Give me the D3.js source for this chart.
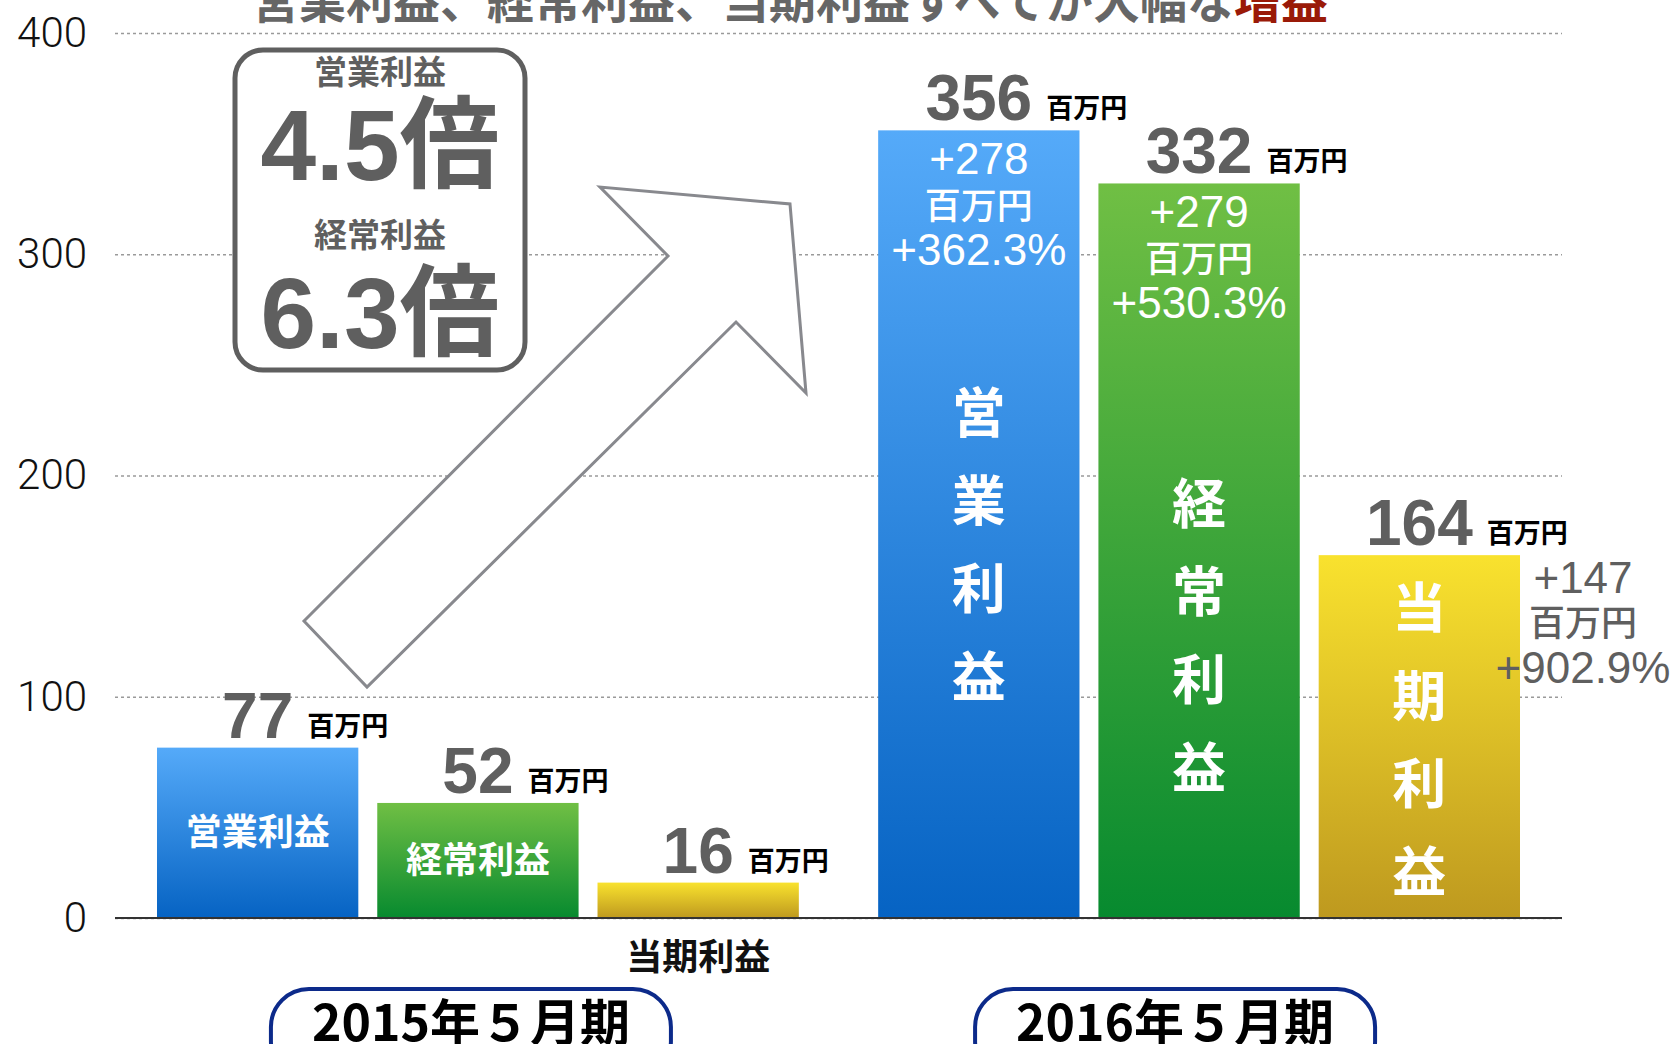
<!DOCTYPE html>
<html>
<head>
<meta charset="utf-8">
<script src="https://cdn.jsdelivr.net/npm/d3@7"></script>
<style>
  html, body { margin: 0; padding: 0; background: #fff; overflow: hidden; }
  svg { display: block; }
</style>
</head>
<body>
<div id="graphic"></div>
<script>
(function() {

// data
var periods = ['2015年５月期', '2016年５月期'];
var profitTypes = ['営業利益', '経常利益', '当期利益'];
var profit2015 = [77, 52, 16];
var profit2016 = [356, 332, 164];
var increaseAmount = ['+278', '+279', '+147'];
var increaseRate = ['+362.3%', '+530.3%', '+902.9%'];
var yTicks = [0, 100, 200, 300, 400];
var unitLabel = '百万円';
var ratioLabels = ['営業利益', '経常利益'];
var ratioValues = ['4.5倍', '6.3倍'];
var titleText = '営業利益、経常利益、当期利益すべてが大幅な';
var titleEmph = '増益';

var W = 1674, H = 1044;
var plot = {left: 115, right: 1562, top: 33, bottom: 918};
var jp = '"Noto Sans CJK JP", "Noto Sans", sans-serif';
var num = '"Liberation Sans", Arial, "Noto Sans CJK JP", sans-serif';
var grey = '#5f5f5f';

var svg = d3.select('#graphic').append('svg')
    .attr('width', W)
    .attr('height', H);

// scales
var y = d3.scaleLinear().domain([0, 400]).range([plot.bottom, plot.top]);
var x0 = d3.scaleBand().domain(periods).range([157, 1520]).paddingInner(0.11);
var x1 = d3.scaleBand().domain(profitTypes).range([0, x0.bandwidth()]).paddingInner(0.086);

// gradients
var gradStops = [['#55aaf9', '#0663c3'], ['#70bf44', '#078a2f'], ['#f9e22e', '#be991f']];
var defs = svg.append('defs');
profitTypes.forEach(function(t, i) {
  var g = defs.append('linearGradient')
      .attr('id', 'grad' + i)
      .attr('x1', 0).attr('y1', 0).attr('x2', 0).attr('y2', 1);
  g.append('stop').attr('offset', '0%').attr('stop-color', gradStops[i][0]);
  g.append('stop').attr('offset', '100%').attr('stop-color', gradStops[i][1]);
});

// title (cut off at the top edge like the original)
var title = svg.append('text')
    .attr('x', 790)
    .attr('y', 18)
    .attr('text-anchor', 'middle')
    .style('font-family', jp)
    .style('font-weight', 700)
    .style('font-size', '47px')
    .attr('fill', '#666');
title.append('tspan').text(titleText);
title.append('tspan').attr('fill', '#9a1a08').text(titleEmph);

// y axis with dotted gridlines
var yAxis = svg.append('g')
    .attr('class', 'yaxis')
    .attr('transform', 'translate(' + plot.left + ',0)')
    .call(d3.axisLeft(y)
      .tickValues(yTicks)
      .tickSize(-(plot.right - plot.left))
      .tickPadding(28));
yAxis.select('.domain').remove();
yAxis.selectAll('line')
    .attr('stroke', '#9a9a9a')
    .attr('stroke-width', 1.5)
    .attr('stroke-dasharray', '3,3');
yAxis.selectAll('text')
    .style('font-family', 'Roboto, "DejaVu Sans Condensed", sans-serif')
    .style('font-weight', 300)
    .style('font-size', '42px')
    .attr('fill', '#111');

// big arrow (decoration)
var arrowPts = [[304, 621], [668, 256], [600, 187], [790, 204], [806, 393], [736, 322], [367, 687]];
svg.append('path')
    .attr('d', d3.line()(arrowPts) + 'Z')
    .attr('fill', '#fff')
    .attr('stroke', '#88898e')
    .attr('stroke-width', 3);

// multiplier box
svg.append('rect')
    .attr('x', 235).attr('y', 50)
    .attr('width', 290).attr('height', 320)
    .attr('rx', 28)
    .attr('fill', '#fff')
    .attr('stroke', grey)
    .attr('stroke-width', 5);
ratioLabels.forEach(function(l, i) {
  svg.append('text')
      .attr('x', 380).attr('y', 84 + i * 163)
      .attr('text-anchor', 'middle')
      .style('font-family', jp).style('font-weight', 700).style('font-size', '33px')
      .attr('fill', grey)
      .text(l);
  svg.append('text')
      .attr('x', 380).attr('y', 180 + i * 168)
      .attr('text-anchor', 'middle')
      .style('font-family', num).style('font-weight', 700).style('font-size', '100px')
      .attr('fill', grey)
      .text(ratioValues[i]);
});

// bars
var rows = periods.map(function(p, i) {
  var vals = i === 0 ? profit2015 : profit2016;
  return profitTypes.map(function(t, j) {
    return {period: p, type: t, value: vals[j], j: j, i: i};
  });
});

var groups = svg.selectAll('.period')
    .data(rows)
  .enter().append('g')
    .attr('class', 'period')
    .attr('transform', function(d, i) { return 'translate(' + x0(periods[i]) + ',0)'; });

groups.selectAll('rect')
    .data(function(d) { return d; })
  .enter().append('rect')
    .attr('x', function(d) { return x1(d.type); })
    .attr('y', function(d) { return y(d.value); })
    .attr('width', x1.bandwidth())
    .attr('height', function(d) { return y(0) - y(d.value); })
    .attr('fill', function(d) { return 'url(#grad' + d.j + ')'; });

// baseline
svg.append('line')
    .attr('x1', plot.left).attr('x2', plot.right)
    .attr('y1', y(0)).attr('y2', y(0))
    .attr('stroke', '#333')
    .attr('stroke-width', 2);

// value labels: number centred on bar, unit to its right
groups.each(function(row) {
  var g = d3.select(this);
  row.forEach(function(d) {
    var cx = x1(d.type) + x1.bandwidth() / 2;
    var base = y(d.value) - 10;
    var t = g.append('text')
        .attr('x', cx).attr('y', base)
        .attr('text-anchor', 'middle')
        .style('font-family', num).style('font-weight', 700).style('font-size', '64px')
        .attr('fill', grey)
        .text(d.value);
    var w = t.node().getComputedTextLength();
    g.append('text')
        .attr('x', cx + w / 2 + 14).attr('y', base - 2)
        .style('font-family', jp).style('font-weight', 700).style('font-size', '27px')
        .attr('fill', '#000')
        .text(unitLabel);
  });
});

// 2015 labels: horizontal, inside the bar or under the axis
groups.filter(function(d, i) { return i === 0; }).each(function(row) {
  var g = d3.select(this);
  row.forEach(function(d) {
    var cx = x1(d.type) + x1.bandwidth() / 2;
    var inside = d.j < 2;
    g.append('text')
        .attr('x', cx)
        .attr('y', inside ? (y(d.value) + y(0)) / 2 : y(0) + 39)
        .attr('dy', '0.35em')
        .attr('text-anchor', 'middle')
        .style('font-family', jp).style('font-weight', 700).style('font-size', '36px')
        .attr('fill', inside ? '#fff' : '#111')
        .text(d.type);
  });
});

// 2016 labels: vertical names, and increase amounts
var vStackCenter = [168, 127, 80];   // in axis units
var insideOffsets = [44, 89, 135], outsideOffsets = [38, 81, 128];
groups.filter(function(d, i) { return i === 1; }).each(function(row) {
  var g = d3.select(this);
  row.forEach(function(d) {
    var cx = x1(d.type) + x1.bandwidth() / 2;
    var chars = d.type.split('');
    chars.forEach(function(c, k) {
      g.append('text')
          .attr('x', cx)
          .attr('y', y(vStackCenter[d.j]) + (k - 1.5) * 88)
          .attr('dy', '0.35em')
          .attr('text-anchor', 'middle')
          .style('font-family', jp).style('font-weight', 700).style('font-size', '54px')
          .attr('fill', '#fff')
          .text(c);
    });
    var inside = d.j < 2;
    var lines = [increaseAmount[d.j], unitLabel, increaseRate[d.j]];
    lines.forEach(function(l, k) {
      g.append('text')
          .attr('x', inside ? cx : x1(d.type) + x1.bandwidth() + 63)
          .attr('y', y(d.value) + (inside ? insideOffsets[k] : outsideOffsets[k]))
          .attr('text-anchor', 'middle')
          .style('font-family', k === 1 ? jp : num)
          .style('font-weight', k === 1 ? 500 : 400)
          .style('font-size', k === 1 ? '36px' : '44px')
          .attr('fill', inside ? '#fff' : grey)
          .text(l);
    });
  });
});

// period pills at the bottom
var pillShift = [-7, -24];
periods.forEach(function(p, i) {
  var cx = x0(p) + x0.bandwidth() / 2 + pillShift[i];
  svg.append('rect')
      .attr('x', cx - 200).attr('y', 989)
      .attr('width', 400).attr('height', 90)
      .attr('rx', 38)
      .attr('fill', '#fff')
      .attr('stroke', '#0c2a8a')
      .attr('stroke-width', 4);
  svg.append('text')
      .attr('x', cx).attr('y', 1041)
      .attr('text-anchor', 'middle')
      .style('font-family', jp).style('font-weight', 700).style('font-size', '50px')
      .attr('fill', '#000')
      .text(p);
});

})();
</script>
</body>
</html>
